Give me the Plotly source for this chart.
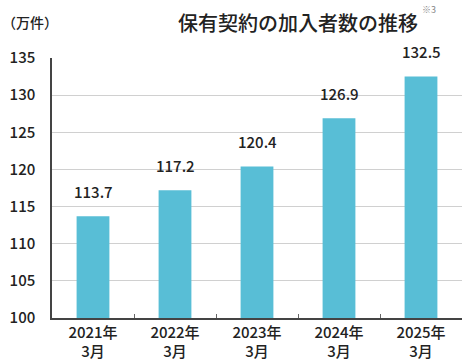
import plotly.graph_objects as go

categories = ["2021年<br>3月", "2022年<br>3月", "2023年<br>3月", "2024年<br>3月", "2025年<br>3月"]
values = [113.7, 117.2, 120.4, 126.9, 132.5]
y_ticks = [100, 105, 110, 115, 120, 125, 130, 135]

font = "Noto Sans CJK JP"

fig = go.Figure(go.Bar(
    x=categories, y=values,
    marker=dict(color="#58BED6", line=dict(width=0)),
    width=0.4,
    cliponaxis=False,
    hoverinfo="skip",
))

for c, v in zip(categories, values):
    fig.add_annotation(x=c, y=v, text=f"{v:.1f}", showarrow=False,
                       yanchor="middle", yshift=25,
                       font=dict(size=15, family=font, color="#222222", weight=500))

fig.update_layout(
    width=470, height=364,
    margin=dict(l=52, r=8, t=58, b=46, autoexpand=False),
    paper_bgcolor="white", plot_bgcolor="white",
    showlegend=False,
    font=dict(family=font, color="#222222"),
)
fig.update_xaxes(
    showline=True, linecolor="#444444", linewidth=1.5,
    tickfont=dict(size=15, family=font, color="#222222", weight=500),
    ticks="inside", ticklen=4, tickcolor="#666666",
    tickson="boundaries",
    showgrid=False, automargin=False,
)
fig.update_yaxes(
    range=[100, 135], tickvals=y_ticks,
    showline=True, linecolor="#444444", linewidth=1.5,
    showgrid=True, gridcolor="#D0D0D0", gridwidth=1,
    tickfont=dict(size=15, family=font, color="#222222", weight=500),
    ticks="", ticklabelstandoff=12,
    zeroline=False, automargin=False,
)
fig.add_annotation(text="保有契約の加入者数の推移", xref="paper", yref="paper",
                   x=0.6, y=1, yshift=36, xanchor="center", yanchor="middle",
                   showarrow=False, font=dict(size=20, family=font, color="#222222", weight=500))
fig.add_annotation(text="※3", xref="paper", yref="paper",
                   x=0.92, y=1, yshift=49, xanchor="center", yanchor="middle",
                   showarrow=False, font=dict(size=9, family=font, color="#888888"))
fig.add_annotation(text="（万件）", xref="paper", yref="paper",
                   x=-0.127, y=1, yshift=36, xanchor="left", yanchor="middle",
                   showarrow=False, font=dict(size=14, family=font, color="#222222", weight=500))

fig.write_html("out.html", config={"displayModeBar": False},
               post_script="document.body.style.margin='0';document.body.style.overflow='hidden';")
